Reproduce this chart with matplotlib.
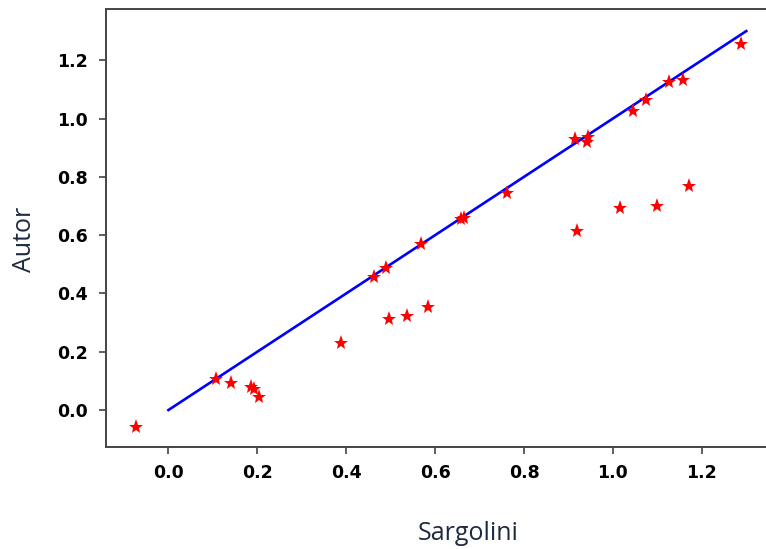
import matplotlib
matplotlib.use("Agg")
import matplotlib.pyplot as plt
from matplotlib.ticker import FormatStrFormatter

# Data
sargolini = [-0.072, 0.108, 0.141, 0.186, 0.192, 0.204, 0.388, 0.463, 0.490, 0.497,
             0.536, 0.583, 0.568, 0.658, 0.664, 0.762, 0.920, 0.915, 0.945, 0.942,
             1.017, 1.046, 1.074, 1.100, 1.127, 1.158, 1.171, 1.288]
autor = [-0.057, 0.108, 0.094, 0.080, 0.073, 0.045, 0.231, 0.458, 0.486, 0.314,
         0.321, 0.355, 0.568, 0.654, 0.659, 0.746, 0.615, 0.929, 0.936, 0.918,
         0.692, 1.027, 1.062, 0.700, 1.126, 1.133, 0.768, 1.257]
line_x = [0.0, 1.3]
line_y = [0.0, 1.3]
x_ticks = [0.0, 0.2, 0.4, 0.6, 0.8, 1.0, 1.2]
y_ticks = [0.0, 0.2, 0.4, 0.6, 0.8, 1.0, 1.2]

fig = plt.figure(figsize=(7.66, 5.49), dpi=100)
ax = fig.add_axes([0.138, 0.1867, 0.8763, 0.796])

ax.plot(line_x, line_y, color="#0000ff", linewidth=1.9, zorder=2)
ax.plot(sargolini, autor, linestyle="none", marker="*", color="#ff0000",
        markersize=11, markeredgewidth=0, zorder=3)

ax.set_xlim(-0.141, 1.369)
ax.set_ylim(-0.125, 1.374)
ax.set_xticks(x_ticks)
ax.set_yticks(y_ticks)
ax.xaxis.set_major_formatter(FormatStrFormatter("%.1f"))
ax.yaxis.set_major_formatter(FormatStrFormatter("%.1f"))
ax.tick_params(axis="both", length=4.8, width=1.1, color="#333333", pad=8,
               labelsize=12.5, labelcolor="#000000")
for lab in ax.get_xticklabels() + ax.get_yticklabels():
    lab.set_fontweight("bold")
for sp in ax.spines.values():
    sp.set_color("#444444")
    sp.set_linewidth(1.4)

label_color = "#1f2a40"
fig.text(468 / 766, (549 - 540) / 549, "Sargolini", ha="center", va="baseline",
         fontsize=18, family=["Open Sans", "DejaVu Sans"], color=label_color)
fig.text(24.5 / 766, 1 - 239 / 549, "Autor", ha="center", va="center", rotation=90,
         fontsize=18, family=["Open Sans", "DejaVu Sans"], color=label_color)

fig.savefig("out.png", dpi=100)
